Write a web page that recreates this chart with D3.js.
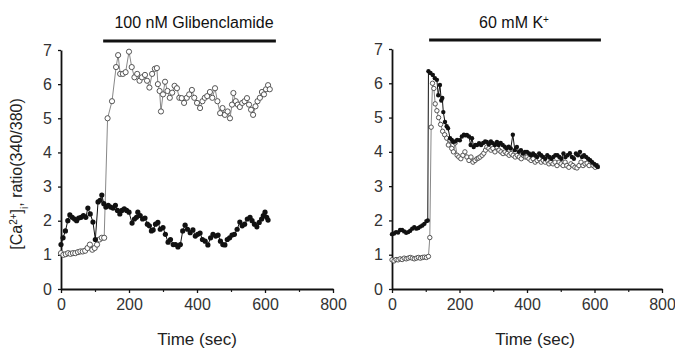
<!DOCTYPE html>
<html>
<head>
<meta charset="utf-8">
<script src="https://cdn.jsdelivr.net/npm/d3@7"></script>
<style>
  body { margin: 0; background: #fff; }
  svg { font-family: "Liberation Sans", Arial, sans-serif; }
  .tick text { fill: #333; }
</style>
</head>
<body>
<div id="chart"></div>
<script>
// [time (sec), ratio]
const leftOpen = [[0,1.05],[7,1.0],[14,1.02],[21,1.05],[28,1.03],[35,1.05],[42,1.05],[50,1.08],[57,1.1],[64,1.1],[71,1.12],[78,1.2],[85,1.3],[92,1.15],[99,1.2],[106,1.3],[113,1.45],[120,1.5],[127,1.5],[137,5.0],[150,5.5],[162,6.5],[168,6.85],[174,6.3],[182,6.3],[190,6.35],[200,6.95],[208,6.5],[216,6.2],[224,6.3],[231,6.1],[238,6.2],[247,6.27],[253,6.1],[260,5.9],[268,6.3],[276,6.45],[282,6.47],[285,6.0],[290,5.8],[294,5.2],[300,5.7],[306,6.07],[313,5.8],[320,5.6],[327,5.75],[334,5.95],[341,5.88],[348,5.6],[355,5.59],[362,5.45],[370,5.6],[377,5.7],[385,5.83],[392,5.6],[400,5.45],[409,5.3],[416,5.5],[423,5.6],[430,5.65],[438,5.77],[445,5.6],[453,5.88],[460,5.5],[468,5.15],[475,5.3],[482,5.1],[490,5.2],[497,5.0],[503,5.4],[507,5.74],[514,5.5],[520,5.4],[526,5.33],[533,5.45],[540,5.5],[547,5.59],[553,5.4],[559,5.25],[565,5.1],[572,5.35],[578,5.5],[585,5.6],[591,5.77],[597,5.7],[603,5.85],[609,5.97],[614,5.85]];

const leftFilled = [[0,1.3],[6,1.5],[13,1.7],[20,2.0],[26,2.17],[33,2.1],[40,2.05],[46,2.0],[52,2.08],[59,2.1],[66,2.15],[73,2.1],[79,2.37],[86,2.2],[94,1.96],[101,1.45],[109,2.55],[115,2.6],[120,2.75],[126,2.5],[132,2.4],[139,2.45],[146,2.4],[153,2.37],[160,2.45],[166,2.3],[173,2.2],[179,2.3],[186,2.35],[193,2.3],[200,2.25],[209,1.93],[216,2.05],[222,2.1],[226,2.25],[233,2.15],[240,2.05],[247,2.08],[254,1.9],[260,1.85],[266,1.7],[271,1.73],[278,1.9],[285,1.95],[292,1.75],[300,1.8],[307,1.6],[315,1.37],[322,1.45],[330,1.3],[337,1.3],[344,1.23],[351,1.3],[358,1.7],[365,1.87],[372,1.75],[380,1.65],[388,1.73],[395,1.55],[402,1.6],[409,1.64],[416,1.45],[424,1.4],[432,1.29],[440,1.5],[447,1.6],[455,1.55],[462,1.58],[469,1.4],[476,1.3],[482,1.29],[489,1.45],[496,1.5],[503,1.58],[510,1.6],[518,1.75],[526,1.96],[533,1.85],[540,1.9],[548,2.05],[556,2.1],[562,2.0],[569,1.9],[576,1.82],[583,1.95],[590,2.05],[595,2.15],[600,2.25],[605,2.1],[609,2.02]];

const rightOpen = [[0,0.85],[6,0.82],[12,0.86],[18,0.85],[24,0.88],[30,0.86],[36,0.9],[42,0.88],[48,0.9],[54,0.92],[60,0.9],[66,0.88],[72,0.9],[78,0.92],[84,0.9],[90,0.92],[96,0.93],[102,0.92],[108,0.95],[112,1.5],[116,4.72],[120,6.0],[124,5.85],[128,5.4],[133,5.2],[138,5.0],[144,4.8],[150,4.6],[156,4.5],[162,4.4],[167,4.2],[172,4.34],[177,4.1],[182,4.0],[187,4.26],[193,3.9],[198,3.85],[204,3.8],[210,3.9],[216,4.0],[222,3.85],[228,3.75],[234,3.85],[240,3.7],[246,3.75],[252,3.8],[256,3.82],[261,3.85],[267,3.9],[272,3.96],[277,4.05],[281,4.14],[287,4.1],[293,4.05],[299,4.1],[305,4.0],[311,4.14],[317,4.05],[323,4.0],[329,3.95],[335,4.0],[341,3.95],[347,3.9],[353,3.95],[359,3.9],[365,3.85],[371,3.9],[377,3.85],[383,3.8],[389,3.9],[395,3.85],[400,3.85],[406,3.8],[412,3.75],[418,3.8],[424,3.7],[430,3.75],[436,3.8],[442,3.7],[448,3.75],[454,3.7],[459,3.76],[465,3.65],[471,3.7],[477,3.65],[483,3.7],[489,3.6],[495,3.7],[501,3.65],[507,3.6],[513,3.7],[518,3.6],[524,3.55],[530,3.65],[536,3.6],[542,3.55],[548,3.53],[554,3.6],[560,3.7],[566,3.6],[572,3.65],[578,3.67],[584,3.6],[590,3.7],[596,3.6],[602,3.55],[607,3.6]];

const rightFilled = [[0,1.6],[6,1.62],[12,1.66],[18,1.65],[24,1.72],[30,1.72],[36,1.68],[42,1.64],[48,1.66],[54,1.7],[60,1.76],[66,1.8],[72,1.76],[78,1.78],[84,1.82],[90,1.85],[96,1.9],[102,1.98],[106,2.0],[108,6.35],[114,6.3],[121,6.24],[127,6.15],[133,6.1],[137,5.65],[142,5.95],[146,5.5],[149,5.57],[152,5.16],[157,4.87],[162,4.75],[166,4.69],[172,4.4],[177,4.35],[181,4.29],[187,4.3],[193,4.35],[201,4.34],[207,4.45],[213,4.5],[218,4.48],[222,4.49],[228,4.45],[233,4.2],[237,4.4],[242,4.14],[247,4.2],[252,4.2],[258,4.25],[264,4.2],[270,4.26],[276,4.3],[281,4.29],[287,4.22],[293,4.3],[299,4.25],[305,4.2],[311,4.29],[316,4.2],[322,4.26],[328,4.2],[334,4.15],[340,4.1],[346,4.15],[352,4.1],[358,4.5],[364,4.05],[370,4.14],[376,4.0],[382,4.05],[388,3.95],[394,4.0],[400,4.0],[406,3.95],[412,3.9],[418,3.95],[424,3.9],[430,3.85],[436,3.95],[442,3.9],[448,3.85],[454,3.8],[460,3.9],[466,3.85],[472,3.8],[478,3.85],[484,3.9],[490,3.9],[496,3.85],[502,3.8],[508,3.95],[514,3.85],[520,3.9],[527,3.96],[533,3.85],[539,3.8],[545,3.95],[551,3.9],[557,4.0],[563,3.85],[569,3.9],[575,3.85],[581,3.8],[587,3.76],[593,3.7],[599,3.65],[605,3.6],[610,3.56]];

const xTicks = [0, 200, 400, 600, 800];
const xMinorTicks = [100, 300, 500, 700];
const yTicks = [0, 1, 2, 3, 4, 5, 6, 7];
const leftDrug = [124, 632];
const rightDrug = [110, 619];

const svg = d3.select('#chart')
  .append('svg')
    .attr('width', 675)
    .attr('height', 351);

function drawPanel(p) {
  const x = d3.scaleLinear().domain([0, 800]).range([p.left, p.right]);
  const y = d3.scaleLinear().domain([0, 7]).range([p.bottom, p.top]);

  const g = svg.append('g');

  // minor x ticks
  g.append('g')
    .attr('transform', `translate(0, ${p.bottom})`)
    .call(d3.axisBottom(x).tickValues(xMinorTicks).tickSize(3).tickFormat(''))
    .call((s) => s.select('.domain').remove())
    .selectAll('line').attr('stroke', '#222').attr('stroke-width', 1.2);

  const xa = g.append('g')
    .attr('transform', `translate(0, ${p.bottom})`)
    .call(d3.axisBottom(x).tickValues(xTicks).tickSize(4).tickSizeOuter(0).tickPadding(6));
  xa.select('.domain').attr('stroke', '#111').attr('stroke-width', 1.8);
  xa.selectAll('.tick line').attr('stroke', '#111').attr('stroke-width', 1.3);
  xa.selectAll('text').attr('font-size', 16);

  const ya = g.append('g')
    .attr('transform', `translate(${p.left}, 0)`)
    .call(d3.axisLeft(y).tickValues(yTicks).tickFormat(d3.format('d')).tickSize(3).tickSizeOuter(0).tickPadding(6));
  ya.select('.domain').attr('stroke', '#111').attr('stroke-width', 1.8);
  ya.selectAll('.tick line').attr('stroke', '#111').attr('stroke-width', 1.3);
  ya.selectAll('text').attr('font-size', 16);

  // drug application bar
  g.append('line')
    .attr('x1', x(p.drug[0])).attr('x2', x(p.drug[1]))
    .attr('y1', p.barY).attr('y2', p.barY)
    .attr('stroke', '#111').attr('stroke-width', 3);

  const title = g.append('text')
    .attr('x', p.titleX)
    .attr('y', 28)
    .attr('text-anchor', 'middle')
    .attr('font-size', 16)
    .attr('fill', '#111')
    .text(p.title);
  if (p.titleSup) {
    title.append('tspan').attr('baseline-shift', 'super').attr('font-size', 10).text(p.titleSup);
  }

  g.append('text')
    .attr('x', p.labelX)
    .attr('y', 345)
    .attr('text-anchor', 'middle')
    .attr('font-size', 17)
    .attr('fill', '#222')
    .text('Time (sec)');

  const line = d3.line()
    .x((d) => x(d[0]))
    .y((d) => y(d[1]));

  // open circles first
  g.append('path')
    .datum(p.open)
    .attr('fill', 'none')
    .attr('stroke', '#888')
    .attr('stroke-width', 1)
    .attr('d', line);

  g.selectAll('.open')
    .data(p.open)
    .enter().append('circle')
      .attr('class', 'open')
      .attr('cx', (d) => x(d[0]))
      .attr('cy', (d) => y(d[1]))
      .attr('r', p.r)
      .attr('fill', '#fff')
      .attr('stroke', '#444')
      .attr('stroke-width', 0.9);

  g.append('path')
    .datum(p.filled)
    .attr('fill', 'none')
    .attr('stroke', '#111')
    .attr('stroke-width', 1)
    .attr('d', line);

  g.selectAll('.filled')
    .data(p.filled)
    .enter().append('circle')
      .attr('class', 'filled')
      .attr('cx', (d) => x(d[0]))
      .attr('cy', (d) => y(d[1]))
      .attr('r', p.r)
      .attr('fill', '#111');
}

drawPanel({
  left: 61, right: 333, top: 50, bottom: 289,
  drug: leftDrug, barY: 41, title: '100 nM Glibenclamide', titleX: 194, labelX: 197,
  open: leftOpen, filled: leftFilled, r: 2.6
});

drawPanel({
  left: 392, right: 662, top: 49, bottom: 289,
  drug: rightDrug, barY: 40, title: '60 mM K', titleSup: '+', titleX: 514, labelX: 535,
  open: rightOpen, filled: rightFilled, r: 2.2
});

// y-axis label
const yl = svg.append('text')
  .attr('transform', 'translate(22, 174) rotate(-90)')
  .attr('text-anchor', 'middle')
  .attr('font-size', 16)
  .attr('fill', '#222');
yl.append('tspan').text('[Ca');
yl.append('tspan').attr('baseline-shift', 'super').attr('font-size', 10).text('2+');
yl.append('tspan').text(']');
yl.append('tspan').attr('baseline-shift', 'sub').attr('font-size', 10).text('i');
yl.append('tspan').text(', ratio(340/380)');
</script>
</body>
</html>
